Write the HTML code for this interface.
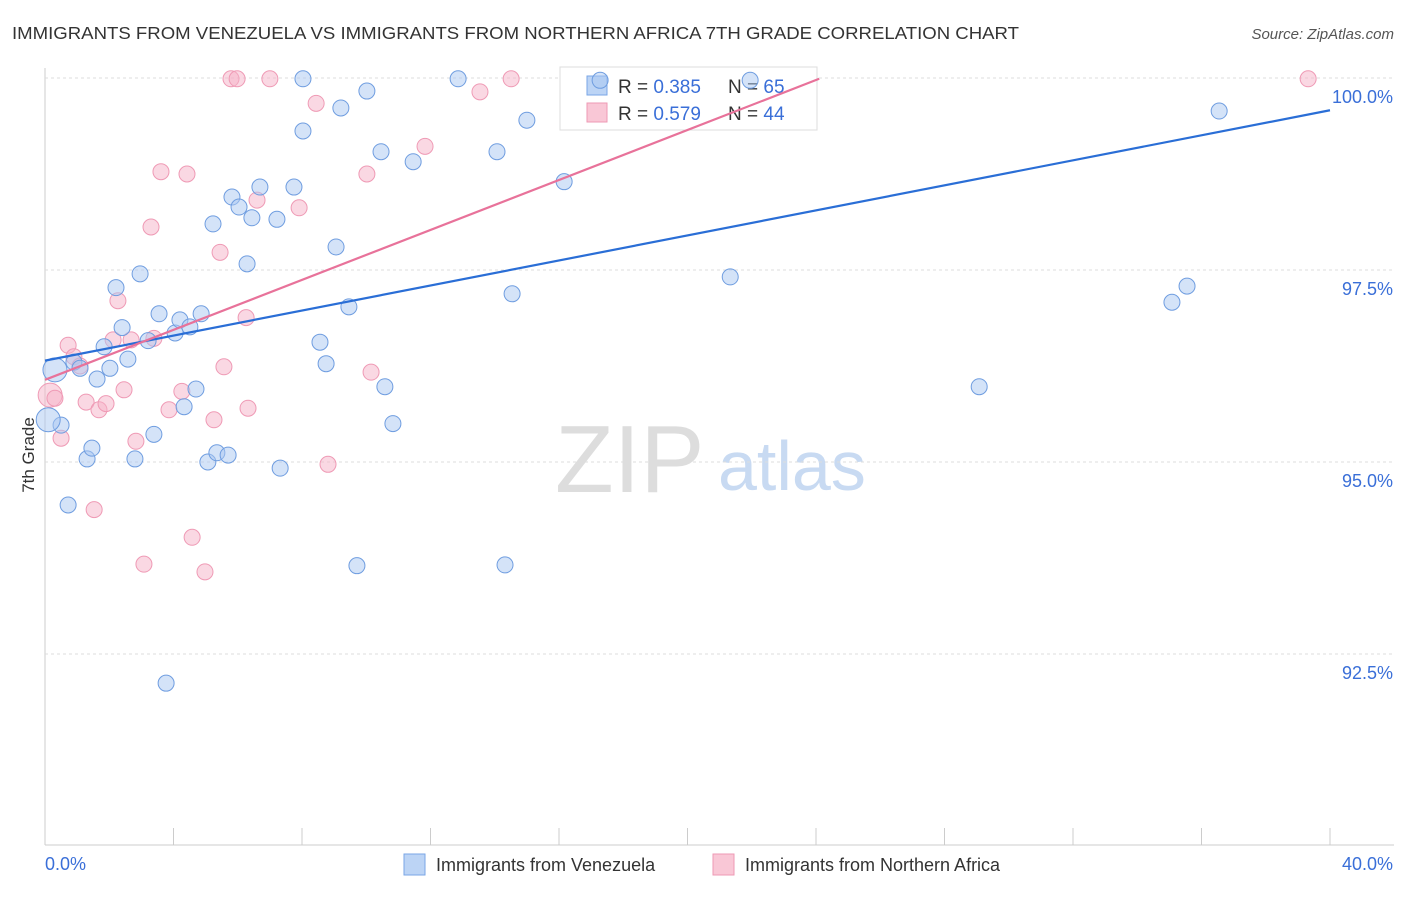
<!DOCTYPE html>
<html><head><meta charset="utf-8"><style>
body{margin:0;background:#fff;font-family:"Liberation Sans",sans-serif}
svg text{font-family:"Liberation Sans",sans-serif}
</style></head><body>
<svg id="c" width="1406" height="892">
<text x="12" y="39" font-size="17.5" fill="#333" textLength="1007" lengthAdjust="spacingAndGlyphs">IMMIGRANTS FROM VENEZUELA VS IMMIGRANTS FROM NORTHERN AFRICA 7TH GRADE CORRELATION CHART</text>
<text x="1394" y="39" font-size="15" fill="#555" font-style="italic" text-anchor="end">Source: ZipAtlas.com</text>
<text x="555" y="492" font-size="96" fill="#ddd" font-family="Liberation Serif">ZIP</text>
<text x="718" y="490" font-size="70" fill="#c8daf2">atlas</text>
<text transform="translate(34,455) rotate(-90)" font-size="17" fill="#333" text-anchor="middle">7th Grade</text>
<g id="grid"></g>
<g>
<rect x="560" y="67" width="257" height="63" fill="#fff" stroke="#ddd"/>
<rect x="587" y="76" width="20" height="19" fill="#bcd4f5" stroke="#7aa6e6"/>
<text x="618" y="93" font-size="19" fill="#333">R = <tspan fill="#3a6fd8">0.385</tspan></text>
<text x="728" y="93" font-size="19" fill="#333">N = <tspan fill="#3a6fd8">65</tspan></text>
<rect x="587" y="103" width="20" height="19" fill="#f9c7d6" stroke="#ee9ab4"/>
<text x="618" y="120" font-size="19" fill="#333">R = <tspan fill="#3a6fd8">0.579</tspan></text>
<text x="728" y="120" font-size="19" fill="#333">N = <tspan fill="#3a6fd8">44</tspan></text>
</g>
<g id="marks"></g>
<g>
<rect x="404" y="854" width="21" height="21" fill="#bcd4f5" stroke="#7aa6e6"/>
<text x="436" y="871" font-size="18" fill="#333">Immigrants from Venezuela</text>
<rect x="713" y="854" width="21" height="21" fill="#f9c7d6" stroke="#ee9ab4"/>
<text x="745" y="871" font-size="18" fill="#333">Immigrants from Northern Africa</text>
</g>
</svg>
<script>
const blueX=[0.31,0.50,0.72,0.90,1.09,1.31,1.46,1.62,1.84,2.02,2.21,2.40,2.58,2.80,2.96,3.21,3.39,3.55,3.77,4.05,4.20,4.33,4.51,4.70,4.86,5.07,5.23,5.35,5.70,5.82,6.04,6.29,6.44,6.69,7.22,7.32,7.75,8.03,8.03,8.56,8.75,9.06,9.21,9.46,9.71,10.02,10.46,10.58,10.83,11.46,12.86,14.07,14.32,14.54,15.00,16.16,17.28,21.95,21.33,29.08,35.08,35.55,36.55,0.1];
const blueY=[96.20,95.48,94.44,96.30,96.22,95.04,95.18,96.08,96.50,96.22,97.27,96.75,96.34,95.04,97.45,96.58,95.36,96.93,92.12,96.68,96.85,95.72,96.76,95.95,96.93,95.00,98.10,95.12,95.09,98.45,98.32,97.58,98.18,98.58,98.16,94.92,98.58,99.99,99.31,96.56,96.28,97.80,99.61,97.02,93.65,99.83,99.04,95.98,95.50,98.91,99.99,99.04,93.66,97.19,99.45,98.65,99.97,99.97,97.41,95.98,97.08,97.29,99.57,95.55];
const pinkX=[0.16,0.31,0.50,0.72,0.90,1.09,1.28,1.53,1.68,1.90,2.12,2.27,2.46,2.68,2.83,3.08,3.30,3.39,3.61,3.86,4.26,4.42,4.58,4.98,5.26,5.45,5.57,5.79,5.98,6.26,6.32,6.60,7.00,7.91,8.44,8.81,10.02,10.15,11.83,13.54,14.51,39.32];
const pinkY=[95.87,95.83,95.31,96.52,96.37,96.25,95.78,94.38,95.68,95.76,96.59,97.10,95.94,96.59,95.27,93.67,98.06,96.61,98.78,95.68,95.92,98.75,94.02,93.57,95.55,97.73,96.24,99.99,99.99,96.88,95.70,98.41,99.99,98.31,99.67,94.97,98.75,96.17,99.11,99.82,99.99,99.99];
const blueTrend=[0,96.32,40,99.58];
const pinkTrend=[0,96.07,24.1,99.99];
const yTicks=[100,97.5,95,92.5];
const yTickLabels=["100.0%","97.5%","95.0%","92.5%"];
const xTicks=[0,4,8,12,16,20,24,28,32,36,40];
const NS="http://www.w3.org/2000/svg";
const X=v=>45+v/40*1285, Y=v=>78+(100-v)/2.5*192;
const grid=document.getElementById('grid'), marks=document.getElementById('marks');
function mk(tag,attrs,parent){const e=document.createElementNS(NS,tag);for(const k in attrs)e.setAttribute(k,attrs[k]);parent.appendChild(e);return e;}
let e=mk('line',{x1:45,x2:45,y1:68,y2:845,stroke:'#ccc'},grid);


e=mk('line',{x1:45,x2:1394,y1:845,y2:845,stroke:'#ccc'},grid);


yTicks.forEach((t,i)=>{
 e=mk('line',{x1:45,x2:1394,y1:Y(t),y2:Y(t),stroke:'#ddd','stroke-dasharray':'3,3'},grid);
 
 
 e=mk('text',{x:1393,y:Y(t)+25,'font-size':18,fill:'#3a6fd8','text-anchor':'end'},grid);e.textContent=yTickLabels[i];
 
 
});
xTicks.forEach(t=>{
 e=mk('line',{x1:X(t),x2:X(t),y1:828,y2:845,stroke:'#ccc'},grid);
 
 
});
e=mk('text',{x:45,y:870,'font-size':18,fill:'#3a6fd8'},grid);e.textContent='0.0%';


e=mk('text',{x:1393,y:870,'font-size':18,fill:'#3a6fd8','text-anchor':'end'},grid);e.textContent='40.0%';


pinkX.forEach((x,i)=>{
 e=mk('circle',{cx:X(x),cy:Y(pinkY[i]),r:i==0?12:8,fill:'rgba(246,177,200,0.5)',stroke:'#ef9ab5','stroke-width':1},marks);
 
 
});
blueX.forEach((x,i)=>{
 e=mk('circle',{cx:X(x),cy:Y(blueY[i]),r:(i==0||i==63)?12:8,fill:'rgba(170,200,242,0.5)',stroke:'#6f9de0','stroke-width':1},marks);
 
 
});
e=mk('line',{x1:X(blueTrend[0]),y1:Y(blueTrend[1]),x2:X(blueTrend[2]),y2:Y(blueTrend[3]),stroke:'#2a6ed6','stroke-width':2.2},marks);


e=mk('line',{x1:X(pinkTrend[0]),y1:Y(pinkTrend[1]),x2:X(pinkTrend[2]),y2:Y(pinkTrend[3]),stroke:'#e8729a','stroke-width':2.2},marks);


</script>
</body></html>
